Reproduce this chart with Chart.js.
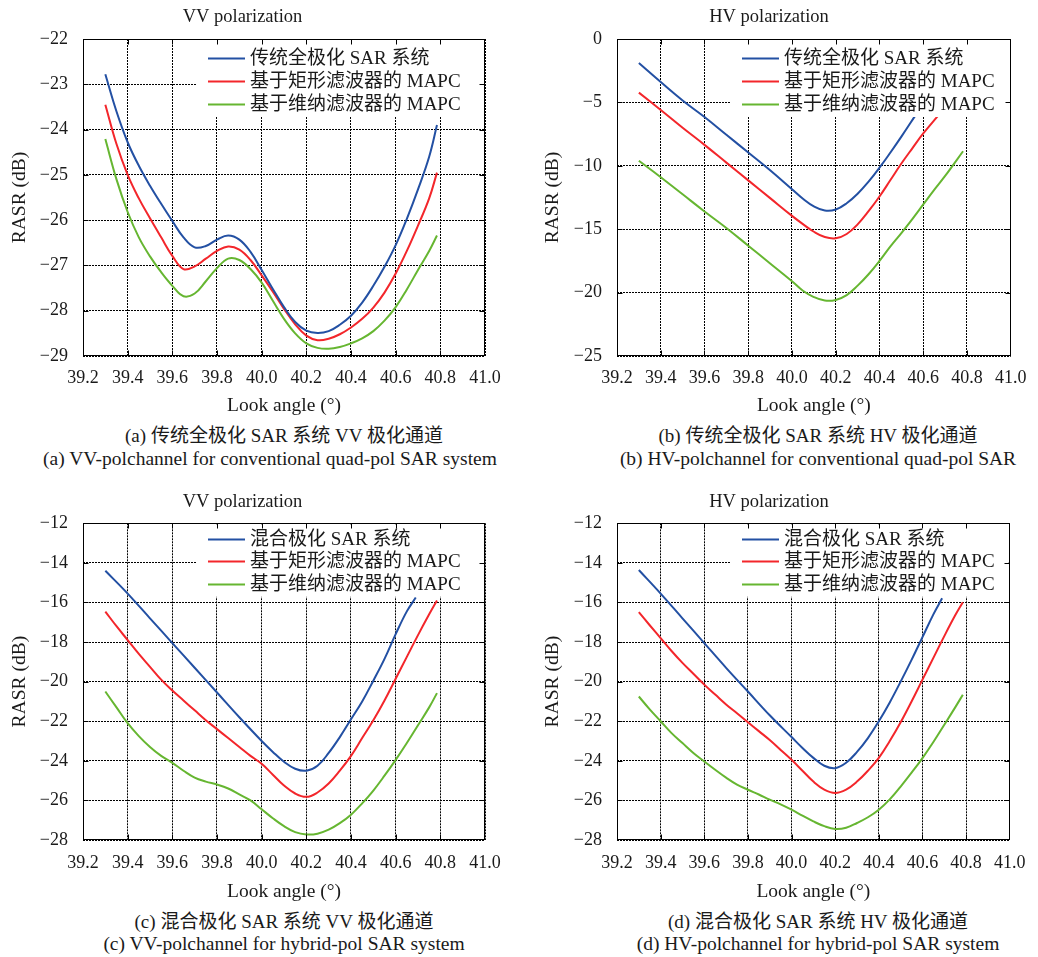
<!DOCTYPE html>
<html>
<head>
<meta charset="utf-8">
<script src="https://cdn.jsdelivr.net/npm/chart.js@4.4.1/dist/chart.umd.min.js"></script>
<style>
html,body{margin:0;padding:0;background:#fff;width:1038px;height:957px;overflow:hidden}
canvas{position:absolute;display:block}
.cap{position:absolute;white-space:nowrap;transform:translateX(-50%);color:#1a1a1a;
  font-family:'Liberation Serif','Noto Sans CJK SC',serif;line-height:22px;height:22px}
</style>
</head>
<body>
<canvas id="cA" width="519" height="422" style="left:0;top:0"></canvas>
<canvas id="cB" width="519" height="422" style="left:519px;top:0"></canvas>
<canvas id="cC" width="519" height="426" style="left:0;top:480px"></canvas>
<canvas id="cD" width="519" height="426" style="left:519px;top:480px"></canvas>
<script>
// ---------------- data ----------------
const xTicks = [39.2, 39.4, 39.6, 39.8, 40.0, 40.2, 40.4, 40.6, 40.8, 41.0];
const yTicksA = [-29, -28, -27, -26, -25, -24, -23, -22];
const yTicksB = [-25, -20, -15, -10, -5, 0];
const yTicksCD = [-28, -26, -24, -22, -20, -18, -16, -14, -12];

const labelsConventional = ['传统全极化 SAR 系统', '基于矩形滤波器的 MAPC', '基于维纳滤波器的 MAPC'];
const labelsHybrid = ['混合极化 SAR 系统', '基于矩形滤波器的 MAPC', '基于维纳滤波器的 MAPC'];
const titleVV = 'VV polarization';
const titleHV = 'HV polarization';
const xTitle = 'Look angle (°)';
const yTitle = 'RASR (dB)';
const captionsCN = ['(a) 传统全极化 SAR 系统 VV 极化通道', '(b) 传统全极化 SAR 系统 HV 极化通道',
                    '(c) 混合极化 SAR 系统 VV 极化通道', '(d) 混合极化 SAR 系统 HV 极化通道'];
const captionsEN = ['(a) VV-polchannel for conventional quad-pol SAR system',
                    '(b) HV-polchannel for conventional quad-pol SAR',
                    '(c) VV-polchannel for hybrid-pol SAR system',
                    '(d) HV-polchannel for hybrid-pol SAR system'];

// look angles (deg)
const angGrid = [39.30, 39.35, 39.40, 39.45, 39.50, 39.55, 39.60, 39.65, 39.70, 39.75, 39.80, 39.85, 39.90, 39.95,
                 40.00, 40.05, 40.10, 40.15, 40.20, 40.25, 40.30, 40.35, 40.40, 40.45, 40.50, 40.55, 40.60, 40.65,
                 40.70, 40.75, 40.785];
const angHybridBlue = [39.30, 39.40, 39.50, 39.60, 39.70, 39.80, 39.90, 40.00, 40.05, 40.10, 40.15, 40.20, 40.25,
                       40.30, 40.35, 40.40, 40.45, 40.50, 40.55, 40.60, 40.65, 40.69];
const angBBlue = [39.30, 39.40, 39.50, 39.60, 39.70, 39.80, 39.90, 40.00, 40.05, 40.10, 40.15, 40.20, 40.25, 40.30,
                  40.35, 40.40, 40.45, 40.50, 40.565];
const angBRed = [39.30, 39.40, 39.50, 39.60, 39.70, 39.80, 39.90, 40.00, 40.05, 40.10, 40.15, 40.20, 40.25, 40.30,
                 40.35, 40.40, 40.45, 40.50, 40.55, 40.60, 40.67];
const angBGreen = [39.30, 39.40, 39.50, 39.60, 39.70, 39.80, 39.90, 40.00, 40.05, 40.10, 40.15, 40.20, 40.25, 40.30,
                   40.35, 40.40, 40.45, 40.50, 40.55, 40.60, 40.65, 40.70, 40.782];

// (a) conventional, VV
const aBlue = [-22.78, -23.60, -24.28, -24.80, -25.24, -25.64, -26.02, -26.38, -26.60, -26.57, -26.43, -26.34, -26.43,
               -26.70, -27.10, -27.52, -27.92, -28.25, -28.44, -28.49, -28.45, -28.31, -28.11, -27.82, -27.45, -27.03,
               -26.55, -25.97, -25.32, -24.60, -23.90];
const aRed = [-23.45, -24.32, -25.00, -25.52, -25.96, -26.38, -26.79, -27.08, -27.02, -26.85, -26.68, -26.58, -26.65,
              -26.88, -27.22, -27.58, -27.96, -28.30, -28.55, -28.65, -28.62, -28.52, -28.37, -28.18, -27.93, -27.60,
              -27.18, -26.68, -26.12, -25.52, -24.95];
const aGreen = [-24.21, -25.10, -25.82, -26.38, -26.80, -27.15, -27.45, -27.68, -27.62, -27.35, -27.06, -26.85, -26.88,
                -27.08, -27.38, -27.78, -28.18, -28.50, -28.72, -28.82, -28.84, -28.80, -28.72, -28.61, -28.45, -28.22,
                -27.92, -27.53, -27.10, -26.68, -26.34];
// (b) conventional, HV
const bBlue = [-1.90, -3.40, -4.85, -6.15, -7.55, -8.95, -10.35, -11.85, -12.60, -13.20, -13.53, -13.45, -12.95, -12.20,
               -11.25, -10.15, -8.95, -7.70, -6.00];
const bRed = [-4.23, -5.60, -7.00, -8.35, -9.75, -11.15, -12.55, -13.95, -14.60, -15.20, -15.62, -15.72, -15.38, -14.62,
              -13.58, -12.42, -11.12, -9.82, -8.62, -7.45, -6.00];
const bGreen = [-9.60, -10.90, -12.25, -13.60, -14.90, -16.30, -17.70, -19.10, -19.85, -20.35, -20.63, -20.58, -20.20,
                -19.45, -18.55, -17.50, -16.35, -15.30, -14.20, -13.05, -11.90, -10.80, -8.85];
// (c) hybrid, VV
const cBlue = [-14.40, -15.55, -16.80, -18.05, -19.30, -20.55, -21.80, -23.00, -23.55, -24.05, -24.40, -24.50, -24.25,
               -23.60, -22.80, -21.90, -21.00, -19.95, -18.85, -17.60, -16.45, -15.75];
const cRed = [-16.46, -17.20, -17.90, -18.60, -19.25, -19.90, -20.45, -20.95, -21.45, -21.95, -22.40, -22.85, -23.30,
              -23.75, -24.15, -24.70, -25.25, -25.65, -25.82, -25.60, -25.15, -24.50, -23.75, -22.85, -21.95, -20.95,
              -19.85, -18.75, -17.65, -16.60, -15.90];
const cGreen = [-20.50, -21.30, -22.10, -22.75, -23.30, -23.75, -24.10, -24.50, -24.85, -25.05, -25.20, -25.40, -25.70,
                -26.00, -26.45, -26.90, -27.30, -27.60, -27.72, -27.68, -27.48, -27.15, -26.72, -26.15, -25.50, -24.75,
                -23.95, -23.10, -22.20, -21.30, -20.58];
// (d) hybrid, HV
const dBlue = [-14.36, -15.55, -16.80, -18.05, -19.30, -20.50, -21.70, -22.80, -23.35, -23.85, -24.25, -24.37, -24.10,
               -23.55, -22.85, -22.00, -21.05, -20.00, -18.90, -17.75, -16.60, -15.79];
const dRed = [-16.49, -17.15, -17.80, -18.45, -19.05, -19.60, -20.15, -20.65, -21.15, -21.60, -22.05, -22.50, -22.95,
              -23.45, -23.95, -24.50, -25.05, -25.45, -25.62, -25.45, -25.05, -24.50, -23.85, -23.00, -22.05, -21.00,
              -19.90, -18.80, -17.70, -16.65, -15.99];
const dGreen = [-20.75, -21.40, -22.00, -22.60, -23.10, -23.60, -24.03, -24.45, -24.85, -25.20, -25.46, -25.70, -25.96,
                -26.20, -26.47, -26.77, -27.06, -27.30, -27.44, -27.38, -27.14, -26.85, -26.47, -25.95, -25.30, -24.60,
                -23.86, -23.05, -22.18, -21.30, -20.66];

// ---------------- styling / layout ----------------
const COLORS = ['#2350a3', '#f3262b', '#66b631'];
const FONT = "'Liberation Serif', 'Noto Sans CJK SC', serif";
const TEXT = '#1a1a1a';
Chart.defaults.font.family = FONT;
Chart.defaults.color = TEXT;

const legendTop = {box: 114, sample: [125, 162], text: 167, rows: [19.3, 41.7, 65], bottom: 78, size: 19};
const legendBot = {box: 114, sample: [125, 162], text: 167, rows: [15.2, 37.6, 60.8], bottom: 73.5, size: 19};

const rowTop = {titlePad: {top: 6.2, bottom: 10.6}, xAxisH: 66, tickPad: 11.5, xTitlePadBottom: 4.3};
const rowBot = {titlePad: {top: 10.6, bottom: 10.5}, xAxisH: 66, tickPad: 12.5, xTitlePadBottom: 2.6};
const colLeft = {areaLeft: 83, padRight: 34, yTitlePad: 8.3};
const colRight = {areaLeft: 98, padRight: 19, yTitlePad: 22.6};
const GRID_DASH = [2, 1];

function fmtY(v) { return v === 0 ? '0' : (v < 0 ? '\u2212' : '') + Math.abs(v); }

const frameLegend = {
  id: 'frameLegend',
  afterDatasetsDraw(chart, args, opts) {
    const ctx = chart.ctx, a = chart.chartArea, lg = opts.legend;
    ctx.save();
    // legend box (white, covers the grid)
    ctx.fillStyle = '#ffffff';
    ctx.fillRect(a.left + lg.box, a.top + 1, a.right - 1 - (a.left + lg.box), lg.bottom - 1);
    ctx.font = lg.size + 'px ' + FONT;
    ctx.textBaseline = 'middle';
    ctx.textAlign = 'left';
    chart.data.datasets.forEach((ds, i) => {
      const y = Math.round(a.top + lg.rows[i]) + 0.5;
      ctx.strokeStyle = ds.borderColor;
      ctx.lineWidth = ds.borderWidth;
      ctx.beginPath();
      ctx.moveTo(a.left + lg.sample[0], y);
      ctx.lineTo(a.left + lg.sample[1], y);
      ctx.stroke();
      ctx.fillStyle = TEXT;
      ctx.fillText(ds.label, a.left + lg.text, y + 1);
    });
    // frame
    ctx.strokeStyle = '#000';
    ctx.lineWidth = 1;
    const L = Math.round(a.left) + 0.5, R = Math.round(a.right) - 0.5;
    const T = Math.round(a.top) + 0.5, B = Math.round(a.bottom) - 0.5;
    ctx.strokeRect(L, T, R - L, B - T);
    // inward tick marks on all four sides
    const tl = 5;
    ctx.beginPath();
    chart.scales.x.ticks.forEach(t => {
      const p = Math.round(chart.scales.x.getPixelForValue(t.value)) + 0.5;
      if (p <= L + 1 || p >= R - 1) return;
      ctx.moveTo(p, B); ctx.lineTo(p, B - tl);
      ctx.moveTo(p, T); ctx.lineTo(p, T + tl);
    });
    chart.scales.y.ticks.forEach(t => {
      const p = Math.round(chart.scales.y.getPixelForValue(t.value)) + 0.5;
      if (p <= T + 1 || p >= B - 1) return;
      ctx.moveTo(L, p); ctx.lineTo(L + tl, p);
      ctx.moveTo(R, p); ctx.lineTo(R - tl, p);
    });
    ctx.stroke();
    ctx.restore();
  }
};

function makeChart(id, title, labels, series, yTicks, row, col, legend) {
  const datasets = series.map((s, i) => ({
    label: labels[i],
    data: s.x.map((x, j) => ({x: x, y: s.y[j]})),
    borderColor: COLORS[i],
    backgroundColor: COLORS[i],
    borderWidth: 2,
    pointRadius: 0,
    fill: false,
    tension: 0.4
  }));
  const gridStyle = {color: '#000', lineWidth: 1, drawTicks: false, tickLength: 0, borderDash: GRID_DASH};
  return new Chart(document.getElementById(id), {
    type: 'line',
    data: {datasets: datasets},
    plugins: [frameLegend],
    options: {
      responsive: false,
      animation: false,
      events: [],
      layout: {padding: {left: 0, top: 0, right: col.padRight, bottom: 0}},
      plugins: {
        legend: {display: false},
        tooltip: {enabled: false},
        title: {display: true, text: title, color: TEXT,
                font: {family: FONT, size: 18.5, weight: 'normal', lineHeight: 1.2},
                padding: row.titlePad},
        frameLegend: {legend: legend}
      },
      scales: {
        x: {
          type: 'linear', min: xTicks[0], max: xTicks[xTicks.length - 1],
          afterBuildTicks: s => { s.ticks = xTicks.map(v => ({value: v})); },
          afterFit: s => { s.height = row.xAxisH; },
          ticks: {callback: v => v.toFixed(1), autoSkip: false, maxRotation: 0, minRotation: 0,
                  padding: row.tickPad, color: TEXT, font: {family: FONT, size: 18, lineHeight: 1.2}},
          grid: gridStyle,
          border: {display: false, dash: GRID_DASH},
          title: {display: true, text: xTitle, color: TEXT,
                  font: {family: FONT, size: 19.5, weight: 'normal', lineHeight: 1.2},
                  padding: {top: 0, bottom: row.xTitlePadBottom}}
        },
        y: {
          type: 'linear', min: yTicks[0], max: yTicks[yTicks.length - 1],
          afterBuildTicks: s => { s.ticks = yTicks.map(v => ({value: v})); },
          afterFit: s => { s.width = col.areaLeft; },
          ticks: {callback: v => fmtY(v), autoSkip: false, padding: 15, color: TEXT,
                  font: {family: FONT, size: 18, lineHeight: 1.2}},
          grid: gridStyle,
          border: {display: false, dash: GRID_DASH},
          title: {display: true, text: yTitle, color: TEXT,
                  font: {family: FONT, size: 19.5, weight: 'normal', lineHeight: 1.2},
                  padding: {top: col.yTitlePad, bottom: 0}}
        }
      }
    }
  });
}

makeChart('cA', titleVV, labelsConventional,
  [{x: angGrid, y: aBlue}, {x: angGrid, y: aRed}, {x: angGrid, y: aGreen}],
  yTicksA, rowTop, colLeft, legendTop);
makeChart('cB', titleHV, labelsConventional,
  [{x: angBBlue, y: bBlue}, {x: angBRed, y: bRed}, {x: angBGreen, y: bGreen}],
  yTicksB, rowTop, colRight, legendTop);
makeChart('cC', titleVV, labelsHybrid,
  [{x: angHybridBlue, y: cBlue}, {x: angGrid, y: cRed}, {x: angGrid, y: cGreen}],
  yTicksCD, rowBot, colLeft, legendBot);
makeChart('cD', titleHV, labelsHybrid,
  [{x: angHybridBlue, y: dBlue}, {x: angGrid, y: dRed}, {x: angGrid, y: dGreen}],
  yTicksCD, rowBot, colRight, legendBot);

// captions (real HTML text)
const capPos = [
  {cx1: 284, cx2: 270, y1: 436, y2: 459},
  {cx1: 818, cx2: 818, y1: 436, y2: 459},
  {cx1: 284, cx2: 284, y1: 922, y2: 944},
  {cx1: 818, cx2: 818, y1: 922, y2: 944}
];
capPos.forEach((p, i) => {
  const d1 = document.createElement('div');
  d1.className = 'cap';
  d1.style.left = p.cx1 + 'px';
  d1.style.top = (p.y1 - 11) + 'px';
  d1.style.fontSize = '19px';
  d1.textContent = captionsCN[i];
  document.body.appendChild(d1);
  const d2 = document.createElement('div');
  d2.className = 'cap';
  d2.style.left = p.cx2 + 'px';
  d2.style.top = (p.y2 - 11) + 'px';
  d2.style.fontSize = '19.5px';
  d2.textContent = captionsEN[i];
  document.body.appendChild(d2);
});
</script>
</body>
</html>
